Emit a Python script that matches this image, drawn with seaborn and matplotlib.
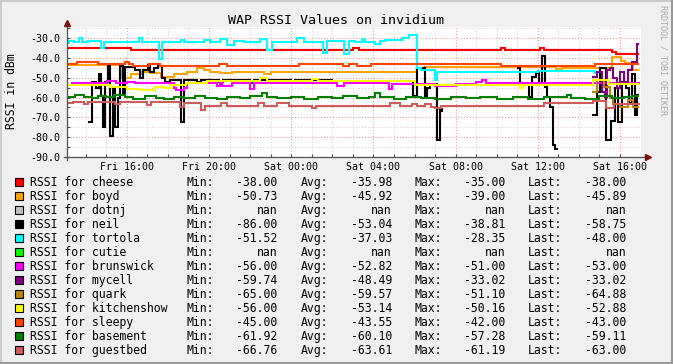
import numpy as np
import pandas as pd
import matplotlib
matplotlib.use("Agg")
import matplotlib.pyplot as plt
import seaborn as sns
from matplotlib.patches import Rectangle
from matplotlib.lines import Line2D

nan = float("nan")

# ---------------- data (hours since Fri 00:00, RSSI in dBm) ----------------
cheese_t = [13.1, 16.2, 27.0, 27.3, 34.2, 34.4, 36.1, 36.3, 39.6, 39.8, 40.93]
cheese_v = [-35, -36, -35, -36, -35, -36, -35, -36, -37, -38, -38]

boyd_t = [13.1, 15.7, 16.2, 16.76, 17.17, 17.65, 18.3, 18.95, 19.44, 19.76, 20.06, 20.55,
          21.1, 22.7, 23.0, 30.1, 30.5, 36.9, 37.2, 39.6, 40.05, 40.25, 40.65, 40.93]
boyd_v = [-43.5, -50, -48.3, -47, -47.8, -49.5, -48.3, -47, -45, -46.2, -47, -47.8,
          -47, -48, -47, -45, -44.7, -45.5, -45, -39.3, -41.5, -42.5, -45.9, -45.9]

dotnj_t = []
dotnj_v = []

neil_t = [14.10, 14.30, 14.50, 14.65, 14.75, 14.85, 14.95, 15.10, 15.20, 15.35, 15.45, 15.55,
          15.65, 15.80, 15.90, 16.40, 16.65, 16.80, 17.05, 17.15, 17.30, 17.50, 17.70, 17.85,
          18.10, 18.65, 18.80, 19.40, 19.60, 20.50, 20.70, 22.00, 22.20, 24.00, 24.20, 26.00,
          26.20, 29.95, 30.10, 30.50, 30.60, 30.75, 31.10, 31.25, 31.35, 31.40,
          35.00, 35.15, 35.35, 35.55, 35.70, 35.90, 36.05, 36.20, 36.35, 36.45, 36.60, 36.75,
          36.85, 37.00, 37.05,
          38.65, 38.90, 39.05, 39.30, 39.55, 39.75, 39.90, 40.10, 40.30, 40.45, 40.60, 40.75,
          40.85, 40.93]
neil_v = [-72.3, -52, -55, -48, -59, -75, -52, -44, -79.5, -55, -75, -60,
          -44, -58, -44.5, -46, -50, -46, -43.5, -47, -45, -44, -50, -52,
          -51, -72.3, -51, -52, -51, -52, -51, -52.5, -51, -52, -51, -52,
          -51.5, -59, -45.2, -59, -55, -53, -81.6, -66, -67.5, nan,
          -45, -52.8, -53, -59.6, -49.5, -47.8, -52.8, -38.8, -54.5, -59.6, -64.7, -84,
          -86, -86, nan,
          -69, -57, -45.2, -81.6, -72, -55, -72.3, -52, -55, -63, -48, -69,
          -58.75, -58.75]

tortola_t = [13.1, 13.19, 13.44, 13.68, 13.84, 14.09, 14.73, 14.9, 15.38, 16.6, 16.76, 17.57,
             17.73, 18.63, 18.79, 19.76, 20.06, 20.55, 20.87, 21.2, 21.7, 22.5, 22.82, 23.06,
             24.28, 24.6, 25.57, 25.74, 26.55, 26.79, 27.12, 27.44, 27.6, 28.09, 28.34, 28.58,
             29.39, 29.72, 30.12, 30.3, 31.0, 31.1, 36.0, 38.8]
tortola_v = [-32.5, -31.2, -31.7, -30, -31.7, -31.4, -34.7, -31.7, -32, -29.8, -31.7, -40.5,
             -32, -30.8, -32, -30.8, -31.7, -30.3, -33.4, -31.4, -31.7, -30.3, -36, -31.7,
             -29.8, -31.7, -37.6, -31.4, -38.1, -31.4, -31.7, -30.3, -31.7, -33, -31.2, -30.8,
             -30, -28.5, -45.2, -46, -51.2, -47, -46.5, -48]

cutie_t = []
cutie_v = []

brunswick_t = [13.1, 13.35, 15.06, 15.47, 16.0, 16.4, 18.3, 18.4, 18.8, 18.95, 20.38, 20.55,
               20.63, 21.1, 22.0, 22.17, 26.22, 26.55, 28.74, 28.9, 31.0, 32.0, 33.0, 33.3,
               33.5, 40.93]
brunswick_v = [-53.5, -52.8, -51.5, -52.8, -52, -52.8, -55, -56, -55, -52.8, -54, -52.8,
               -54, -52.8, -55.5, -52.8, -54, -52.8, -55.5, -53, -54, -53, -52, -51,
               -52.5, -53]

mycell_t = [38.63, 38.87, 39.11, 39.25, 39.36, 39.5, 39.68, 39.85, 40.0, 40.2, 40.41, 40.6,
            40.85, 40.93]
mycell_v = [-49.5, -47, -57, -59.7, -46, -44.8, -50, -55, -47, -52, -46, -42, -33, -33.02]

quark_t = [38.65, 38.87, 39.2, 39.5, 39.68, 40.0, 40.41, 40.65, 40.93]
quark_v = [-57, -51.1, -54.5, -60, -63.3, -64.7, -61.5, -64.9, -64.88]

kitchenshow_t = [13.1, 15.2, 16.0, 16.65, 17.3, 17.8, 18.1, 18.9, 19.9, 22.5, 22.8, 25.0,
                 25.3, 30.0, 35.15, 35.3, 38.7, 39.4, 40.93]
kitchenshow_v = [-53.7, -54.6, -55.5, -56, -54.6, -55, -53.7, -52.5, -51.5, -50.3, -51.5, -50.5,
                 -51.5, -53.5, -55, -53.5, -51.2, -52.9, -52.9]

sleepy_t = [13.1, 13.6, 14.6, 15.9, 16.1, 16.3, 17.1, 17.6, 20.0, 20.5, 20.9, 24.4,
            26.5, 26.8, 27.2, 27.9, 34.2, 38.8, 40.93]
sleepy_v = [-43, -42, -43, -42, -43, -44, -43, -44, -44, -43, -44, -43,
            -44, -43, -44, -43, -44, -43, -43]

basement_t = [13.1, 13.5, 13.9, 14.3, 14.6, 15.0, 15.4, 15.9, 16.3, 16.9, 17.4, 17.8,
              18.3, 18.8, 19.3, 19.8, 20.4, 20.9, 21.5, 22.0, 22.6, 22.8, 23.3, 24.0,
              24.6, 25.3, 26.0, 26.5, 27.2, 27.8, 28.1, 28.3, 29.0, 29.6, 30.3, 31.0,
              31.8, 32.5, 33.2, 34.0, 34.8, 35.5, 36.3, 37.4, 37.6, 38.3, 39.0, 39.6,
              40.2, 40.6, 40.93]
basement_v = [-59.6, -58.5, -59.6, -60.3, -59.2, -59.8, -58.6, -59.6, -60.5, -59.3, -60.0, -60.8,
              -59.5, -60.2, -59.4, -60.0, -60.6, -59.6, -60.2, -59.4, -57.8, -59.6, -60.4, -59.7,
              -60.5, -59.5, -60.3, -59.3, -60.4, -59.6, -57.5, -59.8, -60.6, -59.6, -60.2, -60.8,
              -59.5, -60.2, -59.6, -60.6, -59.8, -60.5, -59.7, -58.8, -60.1, -60.6, -59.4, -60.3,
              -59.5, -59.1, -59.1]

guestbed_t = [13.1, 13.4, 13.9, 14.1, 15.45, 15.65, 17.0, 17.2, 18.6, 18.8, 19.6, 19.8,
              20.6, 20.9, 22.4, 22.7, 23.3, 23.9, 25.0, 25.2, 28.8, 29.3, 29.9, 30.1,
              30.5, 30.8, 31.0, 31.3, 36.3, 38.7, 39.3, 39.7, 40.93]
guestbed_v = [-63, -62.2, -63.2, -62.2, -63.5, -62.2, -63.8, -62.2, -64.6, -62.7, -66.4, -64.4,
              -63, -64.4, -63, -64.4, -63, -64.4, -65.2, -64.4, -63, -64.4, -63.3, -64.2,
              -63.3, -64.8, -65.5, -64.4, -63, -62, -65.5, -63.5, -63]

names = ["cheese", "boyd", "dotnj", "neil", "tortola", "cutie", "brunswick", "mycell",
         "quark", "kitchenshow", "sleepy", "basement", "guestbed"]
colors = ["#FF0000", "#FFA500", "#C0C0C0", "#000000", "#00FFFF", "#00FF00", "#FF00FF",
          "#800080", "#B8860B", "#FFFF00", "#FF4500", "#008000", "#CD5C5C"]
stat_min = [-38.00, -50.73, nan, -86.00, -51.52, nan, -56.00, -59.74, -65.00, -56.00, -45.00, -61.92, -66.76]
stat_avg = [-35.98, -45.92, nan, -53.04, -37.03, nan, -52.82, -48.49, -59.57, -53.14, -43.55, -60.10, -63.61]
stat_max = [-35.00, -39.00, nan, -38.81, -28.35, nan, -51.00, -33.02, -51.10, -50.16, -42.00, -57.28, -61.19]
stat_last = [-38.00, -45.89, nan, -58.75, -48.00, nan, -53.00, -33.02, -64.88, -52.88, -43.00, -59.11, -63.00]

x_tick_pos = [16, 20, 24, 28, 32, 36, 40]
x_tick_labels = ["Fri 16:00", "Fri 20:00", "Sat 00:00", "Sat 04:00", "Sat 08:00", "Sat 12:00", "Sat 16:00"]
y_tick_pos = [-90, -80, -70, -60, -50, -40, -30]

series = {
    "cheese": (cheese_t, cheese_v), "boyd": (boyd_t, boyd_v), "dotnj": (dotnj_t, dotnj_v),
    "neil": (neil_t, neil_v), "tortola": (tortola_t, tortola_v), "cutie": (cutie_t, cutie_v),
    "brunswick": (brunswick_t, brunswick_v), "mycell": (mycell_t, mycell_v),
    "quark": (quark_t, quark_v), "kitchenshow": (kitchenshow_t, kitchenshow_v),
    "sleepy": (sleepy_t, sleepy_v), "basement": (basement_t, basement_v),
    "guestbed": (guestbed_t, guestbed_v),
}

# ---------------- figure ----------------
W, H = 673, 364
MONO = "DejaVu Sans Mono"
fig = plt.figure(figsize=(W / 100, H / 100), dpi=100, facecolor="#F0F0F0")

def fx(x):
    return x / W

def fy(y):
    return 1 - y / H

ax = fig.add_axes([fx(67), fy(156.7), 573.55 / W, 129.8 / H])
ax.set_facecolor("white")

for name, col in zip(names, colors):
    t, v = series[name]
    if len(t) == 0:
        continue
    df = pd.DataFrame({"t": t, "v": v})
    df["seg"] = df["v"].isna().cumsum()
    df = df.dropna()
    sns.lineplot(data=df, x="t", y="v", units="seg", estimator=None, sort=False,
                 color=col, linewidth=1.5, drawstyle="steps-post", ax=ax,
                 solid_capstyle="butt", solid_joinstyle="miter", zorder=3)

ax.set_xlim(13.09, 41.0)
ax.set_ylim(-90, -24.2)
ax.set_xlabel("")
ax.set_ylabel("")
ax.set_xticks(x_tick_pos)
ax.set_xticklabels(x_tick_labels)
ax.set_xticks(np.arange(14, 41, 1), minor=True)
ax.set_yticks(y_tick_pos)
ax.set_yticklabels(["%.1f" % y for y in y_tick_pos])
ax.set_yticks(np.arange(-85, -24, 5), minor=True)
ax.tick_params(axis="both", which="both", direction="in", length=2, width=0.8, color="#505050")
ax.tick_params(axis="x", which="major", pad=4)
ax.tick_params(axis="y", which="major", pad=5)
for lab in ax.get_xticklabels() + ax.get_yticklabels():
    lab.set_fontfamily(MONO)
    lab.set_fontsize(7.2)
    lab.set_color("#000000")

ax.grid(which="minor", color="#E3C4C4", linestyle=(0, (1, 2)), linewidth=0.7, zorder=1)
ax.grid(which="major", color="#F08C8C", linestyle=(0, (1, 2)), linewidth=0.7, zorder=1)
ax.set_axisbelow(True)
for s in ax.spines.values():
    s.set_visible(False)

# axes lines with arrows (rrdtool style)
ax.add_line(Line2D([0, 0], [-0.025, 1.01], transform=ax.transAxes, color="#505050",
                   lw=0.9, clip_on=False, zorder=4))
ax.add_line(Line2D([-0.006, 1.01], [0, 0], transform=ax.transAxes, color="#505050",
                   lw=0.9, clip_on=False, zorder=4))
ax.plot([0], [1.03], marker="^", markersize=4.5, color="#7F1010", transform=ax.transAxes,
        clip_on=False, zorder=5)
ax.plot([1.013], [0], marker=">", markersize=4.5, color="#7F1010", transform=ax.transAxes,
        clip_on=False, zorder=5)

# title, axis label, watermark
fig.text(fx(335.5), fy(24), "WAP RSSI Values on invidium", fontfamily=MONO, fontsize=9.6,
         ha="center", va="baseline", color="#000000")
fig.text(fx(11.7), fy(91), "RSSI in dBm", fontfamily=MONO, fontsize=8.3, rotation=90,
         ha="center", va="center", color="#000000")
fig.text(fx(663.5), fy(60), "RRDTOOL / TOBI OETIKER", fontfamily=MONO, fontsize=6.0,
         rotation=270, ha="center", va="center", color="#A8A8A8")

# legend with stats
LFS = 8.3
for i, name in enumerate(names):
    base = 186.0 + 14.03 * i
    fig.patches.append(Rectangle((fx(15), fy(185.7)+(-14.03*i)/H), 8 / W, 8 / H,
                                 transform=fig.transFigure, facecolor=colors[i],
                                 edgecolor="#000000", linewidth=0.8, figure=fig))
    fig.text(fx(30), fy(base), "RSSI for %s" % name, fontfamily=MONO, fontsize=LFS,
             ha="left", va="baseline")
    fig.text(fx(186.7), fy(base), "Min:", fontfamily=MONO, fontsize=LFS, ha="left", va="baseline")
    fig.text(fx(277.5), fy(base), "%.2f" % stat_min[i], fontfamily=MONO, fontsize=LFS,
             ha="right", va="baseline")
    fig.text(fx(300.4), fy(base), "Avg:", fontfamily=MONO, fontsize=LFS, ha="left", va="baseline")
    fig.text(fx(392), fy(base), "%.2f" % stat_avg[i], fontfamily=MONO, fontsize=LFS,
             ha="right", va="baseline")
    fig.text(fx(414.6), fy(base), "Max:", fontfamily=MONO, fontsize=LFS, ha="left", va="baseline")
    fig.text(fx(505.7), fy(base), "%.2f" % stat_max[i], fontfamily=MONO, fontsize=LFS,
             ha="right", va="baseline")
    fig.text(fx(528), fy(base), "Last:", fontfamily=MONO, fontsize=LFS, ha="left", va="baseline")
    fig.text(fx(626.4), fy(base), "%.2f" % stat_last[i], fontfamily=MONO, fontsize=LFS,
             ha="right", va="baseline")

# 3D-ish border
fig.add_artist(Line2D([0, 1], [1 - 1 / H, 1 - 1 / H], transform=fig.transFigure, color="#CBCBCB", lw=1.5))
fig.add_artist(Line2D([1 / W, 1 / W], [0, 1], transform=fig.transFigure, color="#CBCBCB", lw=1.5))
fig.add_artist(Line2D([0, 1], [1 / H, 1 / H], transform=fig.transFigure, color="#999999", lw=1.5))
fig.add_artist(Line2D([1 - 1 / W, 1 - 1 / W], [0, 1], transform=fig.transFigure, color="#999999", lw=1.5))

fig.savefig("out.png", dpi=100, facecolor=fig.get_facecolor())
